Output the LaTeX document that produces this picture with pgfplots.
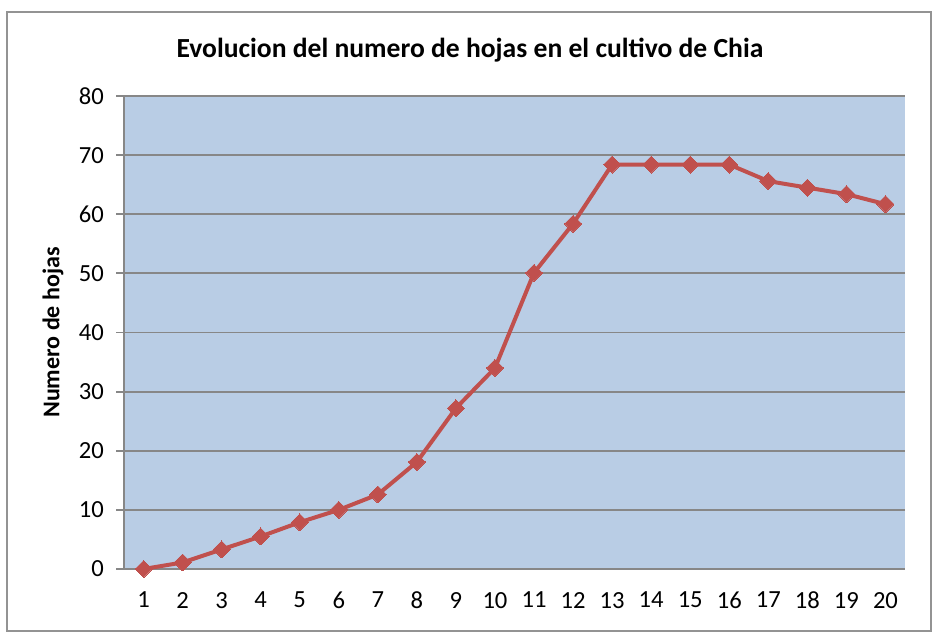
\documentclass[border=0pt]{standalone}
\usepackage{pgfplots}
\pgfplotsset{compat=1.18}
\usepackage{fontspec}
\setmainfont{Carlito}
\definecolor{plotbg}{HTML}{B9CDE5}
\definecolor{grid}{HTML}{878787}
\definecolor{series}{HTML}{C0504D}
\begin{document}
\begin{tikzpicture}
\useasboundingbox (0,0) rectangle (466pt,317.5pt);
\draw[color=grid!90, line width=0.8pt] (3.5pt,2pt) rectangle (465.5pt,311.5pt);
\node[font=\bfseries\fontsize{13.8}{16}\selectfont] at (235pt,292.5pt) {Evolucion del numero de hojas en el cultivo de Chia};
\begin{axis}[
  at={(62pt,33pt)}, anchor=origin,
  scale only axis, width=390.5pt, height=236.5pt,
  xmin=0.5, xmax=20.5, ymin=0, ymax=80,
  axis background/.style={fill=plotbg},
  axis line style={draw=none},
  axis x line*=bottom, axis y line*=left,
  xtick={1,...,20}, ytick={0,10,...,80},
  x tick style={draw=none},
  y tick style={draw=grid, line width=0.9pt},
  major tick length=4pt, tick align=outside,
  ymajorgrids, grid style={draw=grid, line width=0.9pt},
  tick label style={font=\fontsize{12.3}{14}\selectfont},
  /pgf/number format/assume math mode=true,
  ylabel={\bfseries Numero de hojas},
  ylabel style={font=\fontsize{12}{14}\selectfont, at={(-35.5pt,0.5)}, anchor=center, rotate=0},
  xticklabel style={yshift=-4pt},
  yticklabel style={xshift=-2.5pt},
  clip=false,
]
\draw[grid, line width=0.9pt] (axis cs:0.5,0) -- (axis cs:20.5,0);
\draw[grid, line width=0.9pt] (axis cs:0.5,0) -- (axis cs:0.5,80);
\addplot[series, line width=2pt, mark=square*, mark size=3pt, mark options={rotate=45, fill=series, draw=series, line width=0pt}]
coordinates {
(1,0) (2,1.1) (3,3.3) (4,5.5) (5,7.9) (6,10) (7,12.6) (8,18.1) (9,27.2) (10,34)
(11,50.1) (12,58.4) (13,68.4) (14,68.4) (15,68.4) (16,68.4) (17,65.6) (18,64.5) (19,63.4) (20,61.7)
};
\end{axis}
\end{tikzpicture}
\end{document}
